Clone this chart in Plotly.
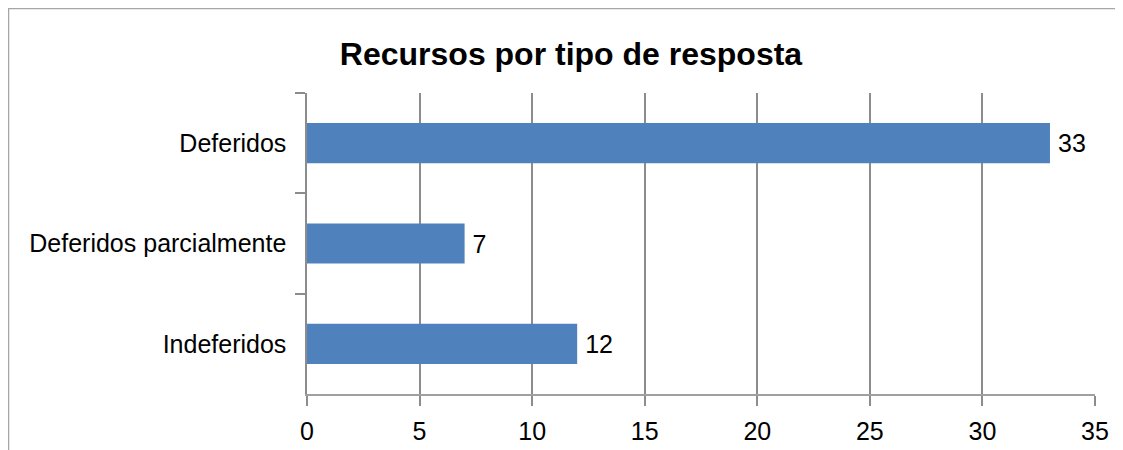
import plotly.graph_objects as go

categories = ["Deferidos", "Deferidos parcialmente", "Indeferidos"]
values = [33, 7, 12]
x_ticks = [0, 5, 10, 15, 20, 25, 30, 35]
title_text = "Recursos por tipo de resposta"

FONT = "Liberation Sans, Arial, sans-serif"
GRID = "#8C8C8C"

# page body has an 8px default margin, so compensate
OFF = 8

fig = go.Figure(
    go.Bar(
        y=categories,
        x=values,
        orientation="h",
        width=0.4,
        marker=dict(color="#4F81BD", line=dict(width=0)),
        text=["\u2009" + str(v) for v in values],
        textposition="outside",
        textfont=dict(family=FONT, size=25, color="#000000"),
        cliponaxis=False,
    )
)

W, H = 1123, 450
L = 307 - OFF
T = 93 - OFF
pw, ph = 788, 301
R = W - L - pw
B = H - T - ph

def px_to_paper_x(px):
    return (px - OFF - L) / pw

def px_to_paper_y(py):
    return (T + ph - (py - OFF)) / ph

fig.update_layout(
    width=W,
    height=H,
    margin=dict(l=L, r=R, t=T, b=B, pad=0),
    paper_bgcolor="white",
    plot_bgcolor="white",
    showlegend=False,
    font=dict(family=FONT, size=25, color="#000000"),
    title=dict(
        text="<b>" + title_text + "</b>",
        font=dict(family=FONT, size=32, color="#000000"),
        x=(571 - OFF) / W,
        xref="container",
        xanchor="center",
        y=1 - (54 - OFF) / H,
        yref="container",
        yanchor="middle",
    ),
    xaxis=dict(
        range=[0, 35],
        tickvals=x_ticks,
        ticktext=[str(t) for t in x_ticks],
        showgrid=True,
        gridcolor=GRID,
        gridwidth=1.5,
        zeroline=False,
        showline=True,
        linecolor="#A0A0A0",
        linewidth=1.5,
        ticks="outside",
        ticklen=10,
        tickwidth=1.5,
        tickcolor=GRID,
        ticklabelstandoff=4,
        tickfont=dict(family=FONT, size=25, color="#000000"),
    ),
    yaxis=dict(
        type="category",
        categoryorder="array",
        categoryarray=categories,
        autorange="reversed",
        showgrid=False,
        zeroline=False,
        showline=True,
        linecolor=GRID,
        linewidth=1.5,
        ticks="outside",
        tickson="boundaries",
        ticklen=10,
        tickwidth=1.5,
        tickcolor=GRID,
        ticksuffix="  ",
        tickfont=dict(family=FONT, size=25, color="#000000"),
    ),
    shapes=[
        dict(
            type="path",
            xref="paper",
            yref="paper",
            path=(
                f"M {px_to_paper_x(8.5)},{px_to_paper_y(470)} "
                f"L {px_to_paper_x(8.5)},{px_to_paper_y(8.5)} "
                f"L {px_to_paper_x(1140)},{px_to_paper_y(8.5)}"
            ),
            line=dict(color="#A6A6A6", width=1.5),
            layer="above",
        )
    ],
)

fig.write_html("out.html")
